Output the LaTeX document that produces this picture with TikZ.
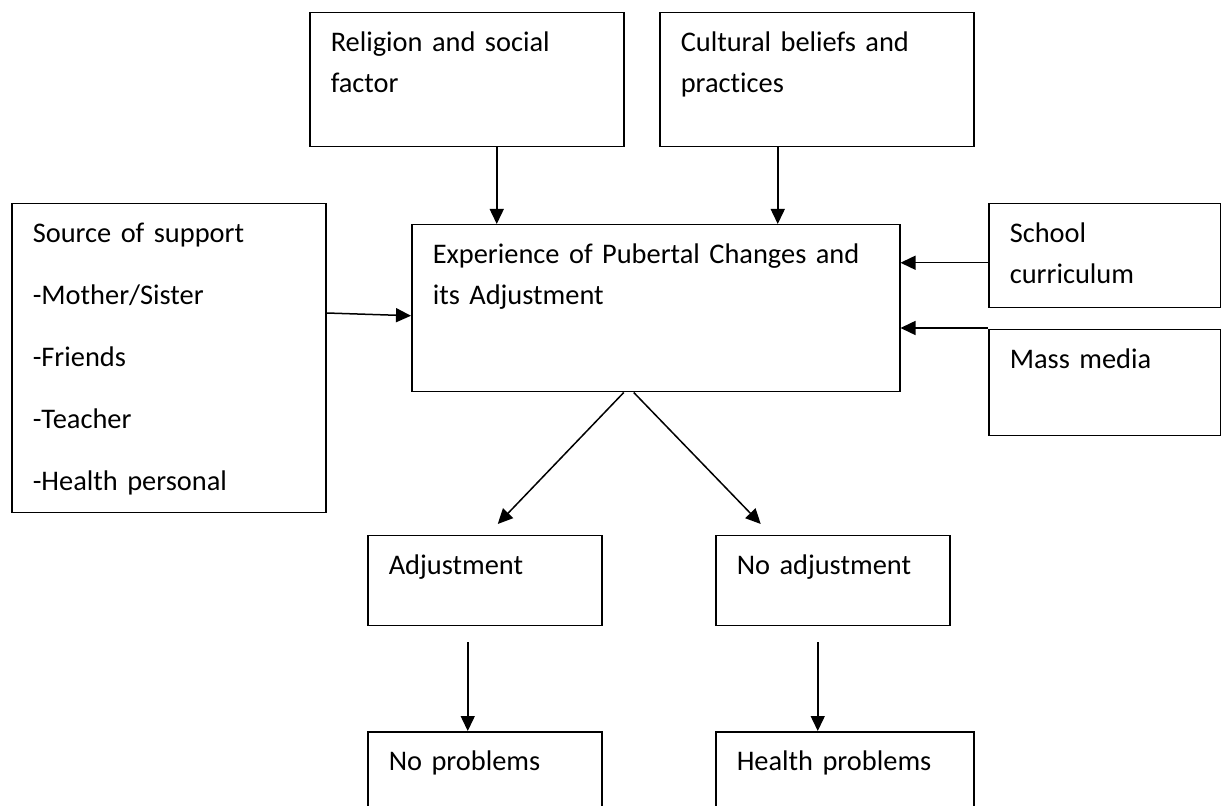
\documentclass[tikz,border=0pt]{standalone}
\usepackage{fontspec}
\setmainfont{Carlito}[Ligatures=NoCommon]
\usetikzlibrary{arrows.meta}

\begin{document}
\begin{tikzpicture}[x=0.5pt,y=-0.5pt,
    box/.style 2 args={draw, line width=0.75pt, anchor=north west, align=left,
        inner xsep=10.5pt, inner ysep=0pt, text width=#1, text height=19.25pt, text depth=#2,
        font=\fontsize{14.2}{20.5}\selectfont},
    arr/.style={-{Triangle[length=7.5pt,width=7pt]}, line width=0.75pt}]
    \clip (0,0) rectangle (1221,806);
    \node[box={136pt}{47.75pt}] (religion) at (309,12) {Religion and social\\factor};
	\node[box={136pt}{47.75pt}] (cultural) at (659,12) {Cultural beliefs and\\practices};
    \node[box={136pt}{135.25pt},font=\fontsize{14.2}{31}\selectfont] (source) at (11,203) {Source of support\\-Mother/Sister\\-Friends\\-Teacher\\-Health personal};
	\node[box={223pt}{64.25pt}] (experience) at (411,224) {Experience of Pubertal Changes and\\its Adjustment};
	\node[box={95pt}{32.75pt}] (school) at (988,203) {School\\curriculum};
	\node[box={95pt}{33.75pt}] (mass) at (988,329) {Mass media};
	\node[box={96pt}{25.75pt}] (adjust) at (367,535) {Adjustment};
    \node[box={96pt}{25.75pt}] (noadjust) at (715,535) {No adjustment};
	\node[box={96pt}{25.75pt}] (noproblem) at (367,731) {No problems};
	\node[box={108pt}{25.75pt}] (healthproblem) at (715,731) {Health problems};
    \draw[arr] ([xshift=15pt]religion.south) -- ([xshift=15pt]religion.south |- experience.north);
    \draw[arr] ([xshift=-19.5pt]cultural.south) -- ([xshift=-19.5pt]cultural.south |- experience.north);
    \draw[arr] ([yshift=-55pt]source.north east) -- ([yshift=-3.75pt]experience.west);
    \draw[arr] ([yshift=-3.5pt]school.west) -- ([yshift=22.75pt]experience.east);
    \draw[arr] ([yshift=0.5pt]mass.north west) -- ([yshift=0.5pt]mass.north west -| experience.east);
    \draw[arr] ([xshift=-16pt]experience.south) -- ([xshift=6.5pt,yshift=5.5pt]adjust.north);
    \draw[arr] ([xshift=-11pt]experience.south) -- ([xshift=-36pt,yshift=5.5pt]noadjust.north);
    \draw[arr] ([xshift=-8.5pt,yshift=-8pt]adjust.south) -- ([xshift=-8.5pt]noproblem.north);
    \draw[arr] ([xshift=-7.5pt,yshift=-8pt]noadjust.south) -- ([xshift=-7.5pt]noadjust.south |- healthproblem.north);
\end{tikzpicture}
\end{document}
